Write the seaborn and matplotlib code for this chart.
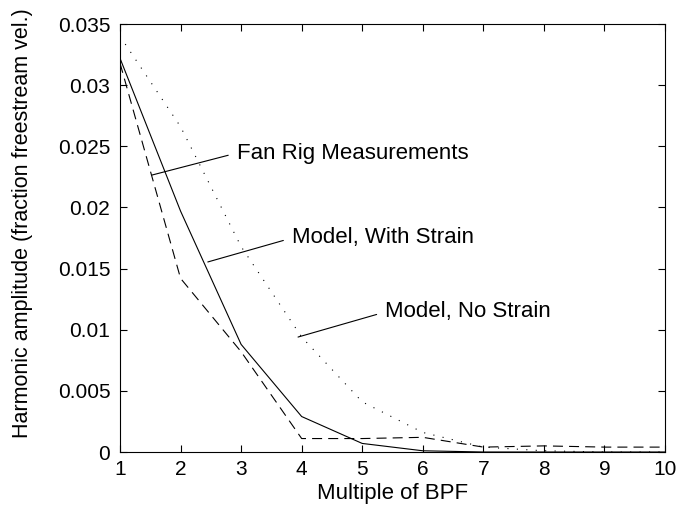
import matplotlib
matplotlib.use("Agg")
import matplotlib.pyplot as plt
import seaborn as sns
import pandas as pd

# Harmonic number (multiple of blade passing frequency)
harmonic = [1, 2, 3, 4, 5, 6, 7, 8, 9, 10]

# Harmonic amplitudes, fraction of freestream velocity
fan_rig_measurements = [0.0318, 0.0142, 0.0082, 0.0011, 0.0011, 0.0012, 0.0004, 0.0005, 0.0004, 0.0004]
model_with_strain = [0.0322, 0.0197, 0.0088, 0.0029, 0.0007, 0.0001, 0.0000, 0.0000, 0.0000, 0.0000]
model_no_strain = [0.0340, 0.0266, 0.0168, 0.0094, 0.0041, 0.0016, 0.0004, 0.0001, 0.0000, 0.0000]

x_ticks = [1, 2, 3, 4, 5, 6, 7, 8, 9, 10]
y_ticks = [0, 0.005, 0.01, 0.015, 0.02, 0.025, 0.03, 0.035]
y_tick_labels = ["0", "0.005", "0.01", "0.015", "0.02", "0.025", "0.03", "0.035"]

sns.set_style("ticks")
plt.rcParams["font.family"] = ["Liberation Sans", "DejaVu Sans"]
plt.rcParams.update({
    "text.color": "black",
    "axes.labelcolor": "black",
    "xtick.color": "black",
    "ytick.color": "black",
    "axes.edgecolor": "black",
})

df = pd.DataFrame({
    "harmonic": harmonic * 3,
    "amplitude": fan_rig_measurements + model_with_strain + model_no_strain,
    "series": (["Fan Rig Measurements"] * len(harmonic)
               + ["Model, With Strain"] * len(harmonic)
               + ["Model, No Strain"] * len(harmonic)),
})

fig = plt.figure(figsize=(6.76, 5.08), dpi=100)
ax = fig.add_axes([120 / 676, 1 - 452 / 508, 545 / 676, 428 / 508])

styles = {
    "Fan Rig Measurements": (0, (9, 5.5)),
    "Model, With Strain": "-",
    "Model, No Strain": (0, (1, 7.5)),
}
for name, ls in styles.items():
    sns.lineplot(data=df[df["series"] == name], x="harmonic", y="amplitude",
                 ax=ax, color="black", linewidth=0.8, linestyle=ls, legend=False)

ax.set_xlim(1, 10)
ax.set_ylim(0, 0.035)
ax.set_xticks(x_ticks)
ax.set_xticklabels([str(t) for t in x_ticks])
ax.set_yticks(y_ticks)
ax.set_yticklabels(y_tick_labels)

for side in ["top", "right", "left", "bottom"]:
    ax.spines[side].set_visible(True)
    ax.spines[side].set_linewidth(0.8)
    ax.spines[side].set_color("black")
ax.tick_params(direction="in", length=5, width=0.8, top=True, right=True,
               labelsize=15, colors="black")
ax.tick_params(axis="y", pad=7)
ax.tick_params(axis="x", pad=6)

ax.set_xlabel("Multiple of BPF", fontsize=16, labelpad=3)
ax.set_ylabel("Harmonic amplitude (fraction freestream vel.)", fontsize=15.5)
ax.yaxis.set_label_coords(-0.16, 0.535)

# Leader-line labels for each curve
labels = [
    ("Fan Rig Measurements", (1.53, 0.02265), (2.93, 0.02445)),
    ("Model, With Strain", (2.45, 0.01554), (3.84, 0.0175)),
    ("Model, No Strain", (3.94, 0.0094), (5.38, 0.01145)),
]
for text, pt, txt in labels:
    ax.annotate(text, xy=pt, xytext=txt, fontsize=16, va="center", ha="left",
                arrowprops=dict(arrowstyle="-", color="black", lw=0.8,
                                shrinkA=4, shrinkB=0, relpos=(0, 0.5)))

fig.savefig("out.png", dpi=100)
